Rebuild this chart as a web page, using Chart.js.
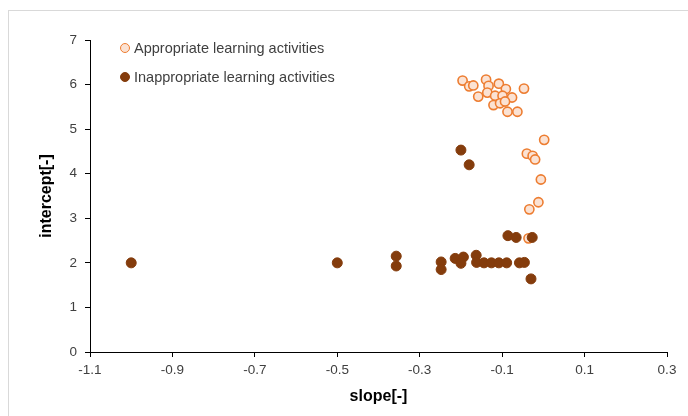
<!DOCTYPE html>
<html>
<head>
<meta charset="utf-8">
<script src="https://cdn.jsdelivr.net/npm/chart.js@4"></script>
<style>
  html, body { margin: 0; padding: 0; background: #fff; }
  #wrap { position: relative; width: 688px; height: 416px; }
  #frame { position: absolute; left: 8px; top: 10px; width: 690px; height: 420px; border: 1px solid #d9d9d9; box-sizing: border-box; pointer-events: none; }
  #legend { position: absolute; left: 120px; top: 38px; font-family: "Liberation Sans", Arial, sans-serif; font-size: 14.5px; color: #404040; }
  #legend .item { display: flex; align-items: center; height: 20px; margin-bottom: 9px; }
  #legend .dot { width: 10px; height: 10px; border-radius: 50%; margin-right: 4px; box-sizing: border-box; }
</style>
</head>
<body>
<div id="wrap">
  <canvas id="scatterChart"></canvas>
  <div id="frame"></div>
  <div id="legend"></div>
</div>
<script>
// values
const appropriateSlope = [-0.196, -0.180, -0.170, -0.139, -0.133, -0.158, -0.136, -0.108, -0.091, -0.117,
  -0.099, -0.076, -0.047, -0.121, -0.105, -0.093, -0.087, -0.063, 0.002, -0.040,
  -0.026, -0.020, -0.006, -0.012, -0.034, -0.036];
const appropriateIntercept = [6.09, 5.96, 5.98, 6.11, 5.97, 5.73, 5.82, 6.02, 5.90, 5.75,
  5.75, 5.71, 5.91, 5.54, 5.58, 5.62, 5.39, 5.39, 4.76, 4.45,
  4.40, 4.32, 3.87, 3.36, 3.20, 2.55];

const inappropriateSlope = [-1.0, -0.5, -0.357, -0.357, -0.248, -0.248, -0.214, -0.194, -0.200, -0.163,
  -0.162, -0.144, -0.126, -0.108, -0.089, -0.058, -0.046, -0.030, -0.086, -0.066,
  -0.027, -0.200, -0.180];
const inappropriateIntercept = [2.00, 2.00, 2.15, 1.93, 2.02, 1.85, 2.10, 2.13, 1.99, 2.17,
  2.01, 2.00, 2.00, 2.00, 2.00, 2.00, 2.01, 1.64, 2.61, 2.57,
  2.57, 4.53, 4.20];

const xTickValues = [-1.1, -0.9, -0.7, -0.5, -0.3, -0.1, 0.1, 0.3];
const yTickValues = [0, 1, 2, 3, 4, 5, 6, 7];

const toPoints = (xs, ys) => xs.map((x, i) => ({ x: x, y: ys[i] }));

const fontFamily = '"Liberation Sans", Arial, sans-serif';

const datasets = [
  {
    label: "Appropriate learning activities",
    data: toPoints(appropriateSlope, appropriateIntercept),
    backgroundColor: "#fbe2d3",
    borderColor: "#ed7d31",
    borderWidth: 1.6,
    pointRadius: 4.6,
    order: 2
  },
  {
    label: "Inappropriate learning activities",
    data: toPoints(inappropriateSlope, inappropriateIntercept),
    backgroundColor: "#843c0c",
    borderColor: "#843c0c",
    borderWidth: 1,
    pointRadius: 5,
    order: 1
  }
];

const chart = new Chart(document.getElementById("scatterChart"), {
  type: "scatter",
  data: { datasets: datasets },
  options: {
    responsive: true,
    maintainAspectRatio: false,
    animation: false,
    layout: { padding: { left: 0, top: 40, right: 21, bottom: 0 } },
    plugins: { legend: { display: false }, tooltip: { enabled: false } },
    scales: {
      x: {
        type: "linear",
        min: -1.1,
        max: 0.3,
        afterBuildTicks: s => { s.ticks = xTickValues.map(v => ({ value: v })); },
        afterFit: s => { s.height = 64; },
        border: { display: true, color: "#000", width: 1 },
        grid: { display: true, drawOnChartArea: false, drawTicks: true, tickLength: 5, color: "#000" },
        ticks: {
          padding: 5,
          color: "#404040",
          font: { family: fontFamily, size: 13.5 },
          callback: v => v.toFixed(1)
        },
        title: {
          display: true,
          text: "slope[-]",
          color: "#000",
          font: { family: fontFamily, size: 16, weight: "bold" },
          padding: { top: 0, bottom: 10 }
        }
      },
      y: {
        type: "linear",
        min: 0,
        max: 7,
        afterBuildTicks: s => { s.ticks = yTickValues.map(v => ({ value: v })); },
        afterFit: s => { s.width = 90; },
        border: { display: true, color: "#000", width: 1 },
        grid: { display: true, drawOnChartArea: false, drawTicks: true, tickLength: 5, color: "#000" },
        ticks: {
          padding: 8,
          color: "#404040",
          font: { family: fontFamily, size: 13.5 }
        },
        title: {
          display: true,
          text: "intercept[-]",
          color: "#000",
          font: { family: fontFamily, size: 16, weight: "bold" },
          padding: { top: 37, bottom: 0 }
        }
      }
    }
  }
});

// legend as html, built from the datasets
const legendEl = document.getElementById("legend");
chart.data.datasets.forEach(ds => {
  const item = document.createElement("div");
  item.className = "item";
  const dot = document.createElement("span");
  dot.className = "dot";
  dot.style.background = ds.backgroundColor;
  dot.style.border = "1.8px solid " + ds.borderColor;
  const txt = document.createElement("span");
  txt.textContent = ds.label;
  item.appendChild(dot);
  item.appendChild(txt);
  legendEl.appendChild(item);
});
</script>
</body>
</html>
